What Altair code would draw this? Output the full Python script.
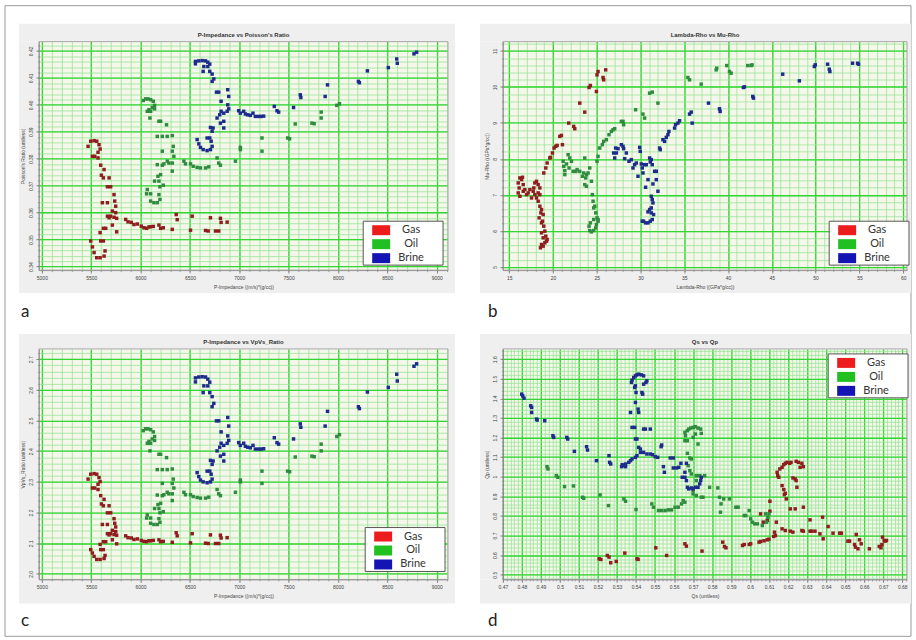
import altair as alt
import pandas as pd

FLUIDS = ["Gas", "Oil", "Brine"]
POINT_COLORS = ["#8f1d1d", "#2f8c3e", "#1d2b8c"]
LEGEND_COLORS = ["#ec1c1c", "#1fc01f", "#1414b4"]

# ---------------- panels a & c : P-Impedance ----------------
GAS_IP = [5468, 5495, 5529, 5556, 5579, 5590, 5569, 5512, 5536, 5569,
          5596, 5630, 5603, 5623, 5681, 5664, 5697, 5731, 5613, 5664,
          5738, 5748, 5714, 5748, 5664, 5681, 5697, 5731, 5758, 5714,
          5758, 5623, 5647, 5590, 5623, 5596, 5495, 5512, 5529, 5556,
          5590, 5630, 5640, 5849, 5873, 5906, 5933, 5967, 6007, 6034,
          6061, 6085, 6102, 6129, 6186, 6203, 6230, 6321, 6361, 6371,
          6506, 6523, 6658, 6685, 6708, 6759, 6792, 6809, 6816, 6877]
GAS_PR = [0.3846, 0.3865, 0.3867, 0.3865, 0.3852, 0.3836, 0.3824, 0.3809, 0.3809, 0.3803,
          0.3776, 0.3760, 0.3739, 0.3729, 0.3729, 0.3696, 0.3696, 0.3667, 0.3637, 0.3637,
          0.3643, 0.3624, 0.3606, 0.3600, 0.3587, 0.3581, 0.3587, 0.3583, 0.3579, 0.3554,
          0.3529, 0.3542, 0.3542, 0.3526, 0.3495, 0.3495, 0.3495, 0.3473, 0.3452, 0.3433,
          0.3433, 0.3439, 0.3458, 0.3575, 0.3566, 0.3564, 0.3556, 0.3558, 0.3550, 0.3544,
          0.3542, 0.3547, 0.3548, 0.3549, 0.3554, 0.3542, 0.3544, 0.3538, 0.3593, 0.3574,
          0.3535, 0.3587, 0.3534, 0.3532, 0.3581, 0.3532, 0.3532, 0.3579, 0.3564, 0.3565]
GAS_VPVS = [2.309, 2.325, 2.327, 2.325, 2.314, 2.301, 2.292, 2.280, 2.280, 2.275,
            2.255, 2.243, 2.228, 2.222, 2.222, 2.199, 2.199, 2.180, 2.161, 2.161,
            2.165, 2.153, 2.142, 2.138, 2.131, 2.127, 2.131, 2.128, 2.126, 2.111,
            2.098, 2.105, 2.105, 2.096, 2.079, 2.079, 2.079, 2.068, 2.057, 2.047,
            2.047, 2.050, 2.060, 2.124, 2.118, 2.117, 2.112, 2.114, 2.109, 2.106,
            2.105, 2.108, 2.108, 2.109, 2.111, 2.105, 2.106, 2.103, 2.134, 2.124,
            2.101, 2.131, 2.100, 2.099, 2.127, 2.099, 2.099, 2.126, 2.117, 2.118]

OIL_IP = [6028, 6051, 6075, 6102, 6129, 6142, 6119, 6085, 6068, 6102,
          6142, 6095, 6186, 6203, 6263, 6169, 6220, 6270, 6321, 6331,
          6220, 6321, 6337, 6270, 6236, 6220, 6169, 6287, 6321, 6439,
          6455, 6506, 6533, 6573, 6607, 6658, 6691, 6321, 6203, 6176,
          6142, 6186, 6230, 6196, 6068, 6061, 6102, 6186, 6196, 6102,
          6135, 6169, 6775, 6792, 6809, 6961, 7011, 7011, 7230, 7230,
          7490, 7510, 7567, 7736, 7759, 7830, 7830, 7988, 8015]
OIL_PR = [0.4016, 0.4022, 0.4022, 0.4019, 0.4013, 0.3998, 0.3990, 0.3982, 0.3976, 0.3976,
          0.3985, 0.3951, 0.3939, 0.3939, 0.3926, 0.3883, 0.3883, 0.3883, 0.3886, 0.3846,
          0.3828, 0.3828, 0.3809, 0.3791, 0.3781, 0.3776, 0.3778, 0.3784, 0.3784, 0.3791,
          0.3781, 0.3781, 0.3772, 0.3768, 0.3766, 0.3766, 0.3770, 0.3754, 0.3741, 0.3735,
          0.3717, 0.3717, 0.3702, 0.3696, 0.3686, 0.3670, 0.3670, 0.3667, 0.3649, 0.3643,
          0.3637, 0.3637, 0.3803, 0.3784, 0.3776, 0.3791, 0.3842, 0.3834, 0.3877, 0.3828,
          0.3877, 0.3874, 0.3929, 0.3932, 0.3930, 0.3973, 0.3951, 0.3998, 0.4004]
OIL_VPVS = [2.467, 2.473, 2.473, 2.470, 2.463, 2.448, 2.440, 2.432, 2.426, 2.426,
            2.435, 2.401, 2.390, 2.390, 2.379, 2.340, 2.340, 2.340, 2.342, 2.309,
            2.295, 2.295, 2.280, 2.266, 2.258, 2.255, 2.257, 2.261, 2.261, 2.266,
            2.258, 2.258, 2.252, 2.249, 2.247, 2.247, 2.250, 2.239, 2.230, 2.226,
            2.213, 2.213, 2.203, 2.199, 2.192, 2.182, 2.182, 2.180, 2.168, 2.165,
            2.161, 2.161, 2.275, 2.261, 2.255, 2.266, 2.306, 2.300, 2.335, 2.295,
            2.335, 2.333, 2.381, 2.384, 2.382, 2.423, 2.401, 2.448, 2.454]

BRINE_IP = [6556, 6556, 6590, 6624, 6658, 6681, 6701, 6681, 6641, 6634,
            6701, 6725, 6742, 6725, 6769, 6792, 6816, 6883, 6893, 6883,
            6893, 6877, 6843, 6816, 6802, 6775, 6843, 6809, 6843, 6735,
            6708, 6725, 6701, 6674, 6715, 6725, 6708, 6674, 6634, 6607,
            6590, 6573, 6994, 7011, 7045, 7062, 7085, 7112, 7139, 7163,
            7197, 7220, 7247, 7355, 7382, 7399, 7550, 7618, 7624, 7870,
            7894, 8207, 8217, 8298, 8510, 8595, 8601, 8770, 8797]
BRINE_PR = [0.4161, 0.4152, 0.4163, 0.4164, 0.4163, 0.4158, 0.4151, 0.4142, 0.4142, 0.4124,
            0.4124, 0.4114, 0.4096, 0.4087, 0.4047, 0.4047, 0.4013, 0.4056, 0.4031, 0.4000,
            0.3985, 0.3976, 0.3969, 0.3976, 0.3963, 0.3951, 0.3939, 0.3932, 0.3914, 0.3914,
            0.3916, 0.3902, 0.3877, 0.3877, 0.3865, 0.3846, 0.3834, 0.3830, 0.3834, 0.3842,
            0.3855, 0.3871, 0.3978, 0.3969, 0.3976, 0.3966, 0.3963, 0.3961, 0.3969, 0.3957,
            0.3957, 0.3957, 0.3958, 0.3994, 0.3978, 0.3973, 0.3990, 0.4037, 0.4027, 0.4031,
            0.4074, 0.4087, 0.4082, 0.4126, 0.4138, 0.4170, 0.4154, 0.4189, 0.4195]
BRINE_VPVS = [2.639, 2.626, 2.642, 2.643, 2.642, 2.635, 2.625, 2.613, 2.613, 2.591,
              2.591, 2.578, 2.556, 2.545, 2.499, 2.499, 2.463, 2.510, 2.482, 2.450,
              2.435, 2.426, 2.419, 2.426, 2.413, 2.401, 2.390, 2.384, 2.368, 2.368,
              2.370, 2.357, 2.335, 2.335, 2.325, 2.309, 2.300, 2.297, 2.300, 2.306,
              2.317, 2.330, 2.428, 2.419, 2.426, 2.416, 2.413, 2.411, 2.419, 2.407,
              2.407, 2.407, 2.408, 2.444, 2.428, 2.423, 2.440, 2.489, 2.478, 2.482,
              2.530, 2.545, 2.539, 2.593, 2.608, 2.651, 2.629, 2.677, 2.685]

# ---------------- panel b : Lambda-Rho vs Mu-Rho ----------------
GAS_LR = [16.03, 16.22, 16.41, 16.52, 16.60, 16.14, 16.03, 16.22, 16.60, 16.79,
          16.98, 17.17, 17.36, 17.55, 17.74, 17.81, 17.93, 18.12, 18.31, 18.50,
          17.93, 18.12, 18.31, 18.50, 18.69, 18.88, 18.80, 18.95, 19.07, 18.69,
          18.88, 19.18, 19.33, 19.07, 18.69, 18.57, 18.88, 19.26, 18.69, 18.42,
          18.61, 18.50, 18.31, 18.95, 19.18, 19.33, 19.64, 19.71, 19.94, 20.13,
          20.32, 20.47, 20.78, 20.97, 21.08, 21.80, 22.37, 22.49, 23.06, 23.63,
          24.12, 24.27, 24.96, 25.03, 25.15, 25.72, 25.79, 26.02]
GAS_MR = [7.331, 7.470, 7.423, 7.488, 7.285, 7.192, 7.054, 6.961, 7.100, 7.146,
          7.007, 7.054, 7.146, 6.915, 7.100, 7.192, 7.331, 7.377, 7.285, 7.192,
          7.007, 6.915, 6.823, 6.684, 6.592, 6.453, 6.268, 6.130, 5.991, 5.945,
          5.806, 5.852, 5.760, 5.667, 5.621, 5.529, 5.575, 5.713, 6.222, 6.361,
          6.499, 7.007, 7.054, 7.608, 7.747, 7.885, 8.024, 8.043, 8.163, 8.301,
          8.348, 8.375, 8.625, 8.652, 8.394, 8.994, 8.902, 8.837, 9.549, 9.299,
          9.983, 10.039, 9.872, 10.335, 10.427, 10.261, 10.196, 10.473]

OIL_LR = [21.16, 21.23, 21.35, 21.35, 21.54, 21.73, 21.92, 22.11, 21.84, 22.30,
          22.60, 22.75, 23.06, 23.36, 23.51, 23.63, 23.82, 23.74, 23.63, 23.82,
          24.01, 24.20, 24.39, 24.50, 24.58, 24.77, 24.65, 24.88, 25.03, 25.15,
          24.96, 24.88, 24.65, 24.39, 24.20, 24.12, 24.27, 24.65, 25.15, 25.03,
          25.15, 25.34, 25.64, 25.79, 26.10, 26.40, 26.67, 26.86, 27.05, 27.81,
          28.00, 28.07, 29.44, 30.28, 30.47, 31.04, 31.34, 31.99, 35.41, 35.60,
          36.93, 38.64, 38.71, 39.85, 40.16, 40.35, 42.25, 42.63, 42.74]
OIL_MR = [7.932, 7.793, 7.673, 7.562, 7.858, 8.116, 8.024, 7.932, 7.747, 7.654,
          7.654, 7.701, 7.654, 7.516, 7.608, 8.024, 7.562, 7.470, 7.285, 7.239,
          7.608, 7.747, 7.377, 7.007, 6.823, 6.684, 6.638, 6.499, 6.361, 6.268,
          6.176, 6.083, 6.009, 5.972, 6.009, 6.130, 6.222, 6.314, 6.314, 7.932,
          8.070, 8.301, 8.394, 8.486, 8.532, 8.671, 8.763, 8.810, 8.837, 9.041,
          9.041, 8.948, 9.364, 9.244, 9.133, 9.826, 9.854, 9.549, 10.261, 10.196,
          10.076, 10.473, 10.519, 10.593, 10.427, 10.381, 10.593, 10.593, 10.612]

BRINE_LR = [26.93, 27.05, 27.16, 27.24, 27.43, 27.81, 28.00, 28.07, 28.38, 28.19,
            28.68, 28.95, 29.14, 29.33, 29.52, 29.71, 29.90, 29.97, 30.09, 30.20,
            30.28, 30.47, 30.58, 30.66, 30.85, 31.04, 31.11, 31.23, 31.34, 31.42,
            31.61, 31.80, 31.80, 31.99, 31.23, 31.34, 31.42, 31.23, 31.04, 30.85,
            31.23, 31.49, 31.34, 31.11, 30.85, 30.58, 30.35, 30.20, 32.18, 32.25,
            32.56, 32.75, 32.94, 33.13, 33.24, 33.89, 34.00, 34.27, 34.46, 35.60,
            35.79, 35.90, 37.76, 39.02, 39.09, 41.75, 41.87, 42.82, 42.90, 46.24,
            48.14, 49.85, 49.96, 51.37, 51.56, 51.63, 54.22, 54.79, 54.90]
BRINE_MR = [8.163, 8.024, 8.301, 8.163, 8.283, 8.394, 8.348, 8.283, 8.163, 8.006,
            7.932, 7.978, 7.747, 7.839, 7.885, 7.516, 8.320, 8.209, 7.858, 7.747,
            7.608, 7.839, 7.211, 7.839, 7.423, 8.024, 7.913, 7.978, 7.839, 7.303,
            7.654, 7.423, 7.654, 7.100, 6.961, 6.869, 6.776, 6.638, 6.592, 6.527,
            6.499, 6.453, 6.314, 6.268, 6.222, 6.222, 6.268, 6.268, 8.301, 8.255,
            8.532, 8.486, 8.597, 8.671, 8.763, 8.856, 8.948, 8.994, 9.059, 9.244,
            9.299, 8.994, 9.549, 9.392, 9.318, 9.983, 10.002, 9.734, 9.688, 10.353,
            10.168, 10.566, 10.612, 10.630, 10.492, 10.427, 10.658, 10.658, 10.630]

# ---------------- panel d : Qs vs Qp ----------------
GAS_QS = [0.6142, 0.6145, 0.6151, 0.6156, 0.6168, 0.6177, 0.6185, 0.6194, 0.6208, 0.6215,
          0.6242, 0.6254, 0.6272, 0.6280, 0.6263, 0.6225, 0.6237, 0.6242, 0.6168, 0.6177,
          0.6185, 0.6180, 0.6190, 0.6211, 0.6237, 0.6246, 0.6280, 0.6104, 0.6104, 0.6055,
          0.6069, 0.6090, 0.6138, 0.6128, 0.6168, 0.6185, 0.6211, 0.6225, 0.6272, 0.6280,
          0.6315, 0.6324, 0.6341, 0.6315, 0.6381, 0.6384, 0.6367, 0.6410, 0.6436, 0.6471,
          0.6480, 0.6514, 0.6523, 0.6549, 0.6554, 0.6567, 0.6575, 0.6584, 0.6558, 0.6627,
          0.6679, 0.6688, 0.6693, 0.6696, 0.6705, 0.6710, 0.6717, 0.5206, 0.5215, 0.5249,
          0.5258, 0.5267, 0.5296, 0.5341, 0.5405, 0.5411, 0.5504, 0.5561, 0.5657, 0.5665,
          0.5747, 0.5856, 0.5865, 0.5873, 0.5960, 0.5969, 0.5995, 0.6003, 0.6047, 0.6055,
          0.6073, 0.6090, 0.6099, 0.6124, 0.6133]
GAS_QP = [1.0227, 1.0057, 0.9972, 1.0397, 1.0482, 1.0617, 1.0685, 1.0736, 1.0685, 1.0736,
          1.0787, 1.0736, 1.0685, 1.0515, 1.0482, 0.9938, 0.9887, 0.9802, 0.9548, 0.9344,
          0.9157, 0.9089, 0.8868, 0.8359, 0.8359, 0.9463, 0.8444, 0.8749, 0.8240, 0.8104,
          0.7680, 0.7765, 0.7680, 0.7170, 0.7340, 0.7255, 0.7221, 0.7170, 0.7255, 0.7221,
          0.7221, 0.7221, 0.7221, 0.7799, 0.7934, 0.6831, 0.7085, 0.7459, 0.7119, 0.7119,
          0.7119, 0.6712, 0.6712, 0.6542, 0.6406, 0.6321, 0.6780, 0.6576, 0.7051, 0.6321,
          0.6440, 0.6372, 0.6542, 0.6916, 0.6746, 0.6712, 0.6746, 0.5812, 0.5778, 0.5982,
          0.5897, 0.5608, 0.5676, 0.6101, 0.5812, 0.5778, 0.6372, 0.5982, 0.6576, 0.6457,
          0.6203, 0.6661, 0.6440, 0.6372, 0.6491, 0.6542, 0.6542, 0.6576, 0.6661, 0.6695,
          0.6729, 0.6780, 0.6814, 0.6950, 0.7000]

OIL_QS = [0.5657, 0.5660, 0.5670, 0.5677, 0.5688, 0.5700, 0.5712, 0.5726, 0.5740, 0.5743,
          0.5712, 0.5700, 0.5670, 0.5657, 0.5726, 0.5670, 0.5683, 0.5691, 0.5674, 0.5683,
          0.5691, 0.5717, 0.5735, 0.5761, 0.5717, 0.5700, 0.5700, 0.5717, 0.5743, 0.5752,
          0.5787, 0.5830, 0.5839, 0.5861, 0.5891, 0.5925, 0.5937, 0.5969, 0.5977, 0.5995,
          0.6003, 0.6012, 0.6024, 0.6038, 0.6064, 0.6086, 0.6093, 0.6081, 0.6099, 0.5648,
          0.5657, 0.5639, 0.5622, 0.5605, 0.5587, 0.5570, 0.5553, 0.5535, 0.5518, 0.5492,
          0.5483, 0.5336, 0.5345, 0.5211, 0.5119, 0.5125, 0.5024, 0.5071, 0.4981, 0.4989,
          0.4932, 0.4937, 0.5255, 0.5400, 0.5847, 0.5844]
OIL_QP = [1.2264, 1.2095, 1.2349, 1.2434, 1.2485, 1.2519, 1.2553, 1.2485, 1.2434, 1.2213,
          1.2180, 1.2010, 1.1840, 1.1840, 1.1670, 1.1195, 1.0957, 1.0906, 1.0566, 1.0312,
          1.0142, 1.0057, 1.0057, 1.0057, 0.9802, 0.9293, 0.9123, 0.9038, 0.8953, 0.8953,
          0.9463, 0.9429, 0.8953, 0.8868, 0.8868, 0.8444, 0.8444, 0.8019, 0.8019, 0.8274,
          0.7850, 0.7680, 0.7595, 0.7595, 0.7510, 0.7680, 0.7934, 0.8104, 0.8104, 0.8783,
          0.8699, 0.8614, 0.8444, 0.8444, 0.8308, 0.8308, 0.8274, 0.8274, 0.8274, 0.8444,
          0.8614, 0.8868, 0.8749, 0.9072, 0.8953, 0.8902, 0.9497, 0.9531, 1.0057, 0.9972,
          1.0515, 1.0397, 0.8529, 0.8325, 0.8614, 0.8189]

BRINE_QS = [0.5376, 0.5379, 0.5388, 0.5397, 0.5405, 0.5414, 0.5428, 0.5440, 0.5457, 0.5452,
            0.5440, 0.5397, 0.5393, 0.5400, 0.5431, 0.5435, 0.5397, 0.5411, 0.5414, 0.5371,
            0.5379, 0.5393, 0.5397, 0.5405, 0.5414, 0.5423, 0.5440, 0.5449, 0.5475, 0.5423,
            0.5440, 0.5457, 0.5475, 0.5487, 0.5501, 0.5514, 0.5405, 0.5397, 0.5379, 0.5371,
            0.5362, 0.5345, 0.5336, 0.5327, 0.5324, 0.5345, 0.4799, 0.4804, 0.4811, 0.4846,
            0.4851, 0.4851, 0.4877, 0.4880, 0.4920, 0.4963, 0.4967, 0.5036, 0.5041, 0.5076,
            0.5140, 0.5145, 0.5192, 0.5258, 0.5261, 0.5267, 0.5532, 0.5535, 0.5544, 0.5549,
            0.5580, 0.5596, 0.5596, 0.5613, 0.5625, 0.5636, 0.5643, 0.5657, 0.5665, 0.5670,
            0.5677, 0.5691, 0.5700, 0.5712, 0.5726, 0.5735, 0.5740, 0.5743, 0.5657, 0.5665]
BRINE_QP = [1.4811, 1.4930, 1.5066, 1.5151, 1.5202, 1.5236, 1.5202, 1.5151, 1.4896, 1.4811,
            1.4726, 1.4642, 1.4557, 1.4302, 1.4302, 1.4217, 1.3793, 1.3453, 1.3283, 1.3283,
            1.2519, 1.2519, 1.1925, 1.1925, 1.1500, 1.1415, 1.2434, 1.2434, 1.2434, 1.1246,
            1.1246, 1.1161, 1.1161, 1.1127, 1.1025, 1.0991, 1.1076, 1.0991, 1.0906, 1.0821,
            1.0736, 1.0651, 1.0566, 1.0617, 1.0515, 1.0515, 1.4217, 1.4132, 1.4013, 1.3623,
            1.3538, 1.3283, 1.2944, 1.2893, 1.2859, 1.2095, 1.2010, 1.2010, 1.1925, 1.1296,
            1.1534, 1.1364, 1.0821, 1.1076, 1.0736, 1.0651, 1.1534, 1.1619, 1.0515, 1.0227,
            1.0957, 1.0957, 1.0448, 1.0448, 1.0482, 1.0685, 0.9972, 0.9972, 0.9802, 0.9463,
            0.9378, 0.9429, 0.9378, 0.9463, 0.9463, 0.9633, 0.9802, 0.9972, 1.0227, 1.0685]

# ---------------- styling ----------------
GRID_MAJOR = "#33d633"
GRID_MINOR = "#95e495"
PANEL_GREY = "#efefef"
PLOT_FILL = "#f5f7ea"
AXIS_FONT = "Liberation Sans"

ONE = pd.DataFrame({"k": [0]})
LEGEND_TABLE = pd.DataFrame({"fluid": FLUIDS})


def table(pairs):
    frames = []
    for fluid, (xs, ys) in zip(FLUIDS, pairs):
        assert len(xs) == len(ys), fluid
        frames.append(pd.DataFrame({"x": xs, "y": ys, "fluid": fluid}))
    return pd.concat(frames, ignore_index=True)


def ticks(lo, hi, step, first):
    vals, i = [], 0
    while True:
        v = first + i * step
        if v > hi + 1e-9:
            break
        if v >= lo - 1e-9:
            vals.append(round(v, 6))
        i += 1
    return vals


def box(x0, x1, y0, y1, **style):
    return alt.Chart(ONE).mark_rect(**style).encode(
        x=alt.value(x0), x2=alt.value(x1), y=alt.value(y0), y2=alt.value(y1))


def label(x, y, text, **style):
    return alt.Chart(ONE).mark_text(**style).encode(
        x=alt.value(x), y=alt.value(y), text=alt.value(text))


def legend_layers(ox, oy):
    """Boxed legend: swatch + label for each fluid (categories from FLUIDS)."""
    layers = [box(ox, ox + 80, oy, oy + 44, fill="white", stroke="#555555", strokeWidth=1)]
    for i, (fluid, colour) in enumerate(zip(FLUIDS, LEGEND_COLORS)):
        cy = oy + 9 + 14 * i
        row = alt.Chart(LEGEND_TABLE).transform_filter(alt.datum.fluid == fluid)
        layers.append(row.mark_rect(color=colour).encode(
            x=alt.value(ox + 9), x2=alt.value(ox + 27),
            y=alt.value(cy - 5), y2=alt.value(cy + 5)))
        layers.append(row.mark_text(font="Lato", fontSize=11, color="#333333",
                                    align="center", baseline="middle").encode(
            x=alt.value(ox + 48), y=alt.value(cy), text="fluid:N"))
    return layers


def panel(df, s):
    W, H = s["size"]
    xs = alt.Scale(domain=s["xdom"], nice=False, zero=False)
    ys = alt.Scale(domain=s["ydom"], nice=False, zero=False)
    base = alt.Chart(df)

    def grid_axis(vals, color, width, orient):
        return alt.Axis(values=vals, grid=True, gridColor=color, gridWidth=width,
                        gridOpacity=1, labels=False, ticks=False, domain=False,
                        title=None, zindex=0, orient=orient)

    def tick_axis(vals, orient):
        return alt.Axis(values=vals, grid=False, labels=False, ticks=True, tickSize=1.5,
                        tickColor="#777777", tickWidth=0.6, domain=False, title=None,
                        zindex=1, orient=orient)

    def invisible(xaxis, yaxis):
        return base.mark_square(opacity=0, size=1).encode(
            x=alt.X("x:Q", scale=xs, axis=xaxis),
            y=alt.Y("y:Q", scale=ys, axis=yaxis))

    minor = invisible(grid_axis(s["xmin"], GRID_MINOR, 0.75, "bottom"),
                      grid_axis(s["ymin"], GRID_MINOR, 0.75, "left"))
    major = invisible(grid_axis(s["xmaj"], GRID_MAJOR, 1.3, "bottom"),
                      grid_axis(s["ymaj"], GRID_MAJOR, 1.3, "left"))
    minor_ticks = invisible(tick_axis(s["xmin"], "bottom"), tick_axis(s["ymin"], "left"))

    gl, gr, gt, gb = s["grey"]
    strips = [box(gl, gr, gt, 0, color=PANEL_GREY),
              box(gl, gr, H, gb, color=PANEL_GREY),
              box(gl, 0, 0, H, color=PANEL_GREY),
              box(W, gr, 0, H, color=PANEL_GREY)]
    frame = box(0, W, 0, H, fillOpacity=0, stroke="#a8a8a8", strokeWidth=1)
    lx, ly = s["letter_xy"]
    letter = label(lx, ly, s["letter"], font="Lato", fontSize=17, color="#222222",
                   align="left", baseline="alphabetic")
    title = label(W / 2, -7, s["title"], font=AXIS_FONT, fontSize=6, fontWeight="bold",
                  color="#333333", align="center", baseline="middle")

    pts = base.mark_square(size=12, opacity=1).encode(
        x=alt.X("x:Q", scale=xs, axis=alt.Axis(
            values=s["xmaj"], format=s["xfmt"], grid=False, orient="bottom",
            labelFont=AXIS_FONT, labelFontSize=5, labelColor="#444444", labelPadding=2,
            tickSize=3, tickColor="#666666", tickWidth=0.7, domainColor="#888888",
            domainWidth=0.8, title=s["xtitle"], titleFont=AXIS_FONT, titleFontSize=5,
            titleFontWeight="normal", titleColor="#444444", titlePadding=4, zindex=1,
            labelFlush=False, labelOverlap=False)),
        y=alt.Y("y:Q", scale=ys, axis=alt.Axis(
            values=s["ymaj"], format=s["yfmt"], grid=False, orient="left",
            labelFont=AXIS_FONT, labelFontSize=5, labelColor="#444444", labelPadding=2,
            labelAngle=270, labelAlign="center", labelBaseline="bottom",
            tickSize=3, tickColor="#666666", tickWidth=0.7, domainColor="#888888",
            domainWidth=0.8, title=s["ytitle"], titleFont=AXIS_FONT, titleFontSize=5,
            titleFontWeight="normal", titleColor="#444444", titlePadding=3, zindex=1,
            labelFlush=False, labelOverlap=False)),
        fill=alt.Fill("fluid:N", scale=alt.Scale(domain=FLUIDS, range=POINT_COLORS),
                      legend=None),
    )

    layers = ([minor, major] + strips + [frame, letter, title] + s.get("extra", [])
              + [pts, minor_ticks] + legend_layers(*s["legend_xy"]))
    return alt.layer(*layers).resolve_axis(x="independent", y="independent").properties(
        width=W, height=H)


border = box(-34, 874, -36, 596, fillOpacity=0, stroke="#9a9a9a", strokeWidth=1)

IP_DOM = [4970, 9115]

spec_a = dict(size=(410, 229), xdom=IP_DOM, ydom=[0.3387, 0.42344],
              xmaj=ticks(4970, 9115, 500, 5000), xmin=ticks(4970, 9115, 100, 5000),
              ymaj=ticks(0.3387, 0.42344, 0.01, 0.34), ymin=ticks(0.3387, 0.42344, 0.002, 0.34),
              xfmt="d", yfmt=".2f", title="P-Impedance vs Poisson's Ratio",
              xtitle="P-Impedance ((m/s)*(g/cc))", ytitle="Poisson's Ratio (unitless)",
              grey=(-20, 417, -18, 252), letter="a", letter_xy=(-18, 276),
              legend_xy=(325, 180), extra=[border])
spec_b = dict(size=(405, 229), xdom=[14.28, 60.44], ydom=[4.909, 11.258],
              xmaj=ticks(14.28, 60.44, 5, 15), xmin=ticks(14.28, 60.44, 1, 15),
              ymaj=ticks(4.909, 11.258, 1, 5), ymin=ticks(4.909, 11.258, 0.2, 5),
              xfmt="d", yfmt="d", title="Lambda-Rho vs Mu-Rho",
              xtitle="Lambda-Rho ((GPa*g/cc))", ytitle="Mu-Rho ((GPa*g/cc))",
              grey=(-23, 409, -18, 252), letter="b", letter_xy=(-15, 276),
              legend_xy=(327, 180))
spec_c = dict(size=(410, 231), xdom=IP_DOM, ydom=[1.9818, 2.7335],
              xmaj=ticks(4970, 9115, 500, 5000), xmin=ticks(4970, 9115, 100, 5000),
              ymaj=ticks(1.9818, 2.7335, 0.1, 2.0), ymin=ticks(1.9818, 2.7335, 0.02, 2.0),
              xfmt="d", yfmt=".1f", title="P-Impedance vs VpVs_Ratio",
              xtitle="P-Impedance ((m/s)*(g/cc))", ytitle="VpVs_Ratio (unitless)",
              grey=(-20, 417, -15, 255), letter="c", letter_xy=(-18, 278),
              legend_xy=(327, 179))
spec_d = dict(size=(405, 231), xdom=[0.4700, 0.6825], ydom=[0.4757, 1.6525],
              xmaj=ticks(0.4700, 0.6825, 0.01, 0.47), xmin=ticks(0.4700, 0.6825, 0.002, 0.47),
              ymaj=ticks(0.4757, 1.6525, 0.1, 0.5), ymin=ticks(0.4757, 1.6525, 0.02, 0.48),
              xfmt=".2~f", yfmt=".1~f", title="Qs vs Qp",
              xtitle="Qs (unitless)", ytitle="Qp (unitless)",
              grey=(-23, 409, -15, 255), letter="d", letter_xy=(-15, 278),
              legend_xy=(326, 5))

pa = panel(table([(GAS_IP, GAS_PR), (OIL_IP, OIL_PR), (BRINE_IP, BRINE_PR)]), spec_a)
pb = panel(table([(GAS_LR, GAS_MR), (OIL_LR, OIL_MR), (BRINE_LR, BRINE_MR)]), spec_b)
pc = panel(table([(GAS_IP, GAS_VPVS), (OIL_IP, OIL_VPVS), (BRINE_IP, BRINE_VPVS)]), spec_c)
pd_ = panel(table([(GAS_QS, GAS_QP), (OIL_QS, OIL_QP), (BRINE_QS, BRINE_QP)]), spec_d)

chart = alt.concat(pa, pb, pc, pd_, columns=2, spacing={"row": 79, "column": 55},
                   bounds="flush").resolve_scale(
    x="independent", y="independent", fill="independent"
).properties(
    padding=4
).configure(background="white").configure_view(fill=PLOT_FILL, stroke="transparent")

chart.save("out.html", embed_options={"renderer": "svg", "actions": False})
